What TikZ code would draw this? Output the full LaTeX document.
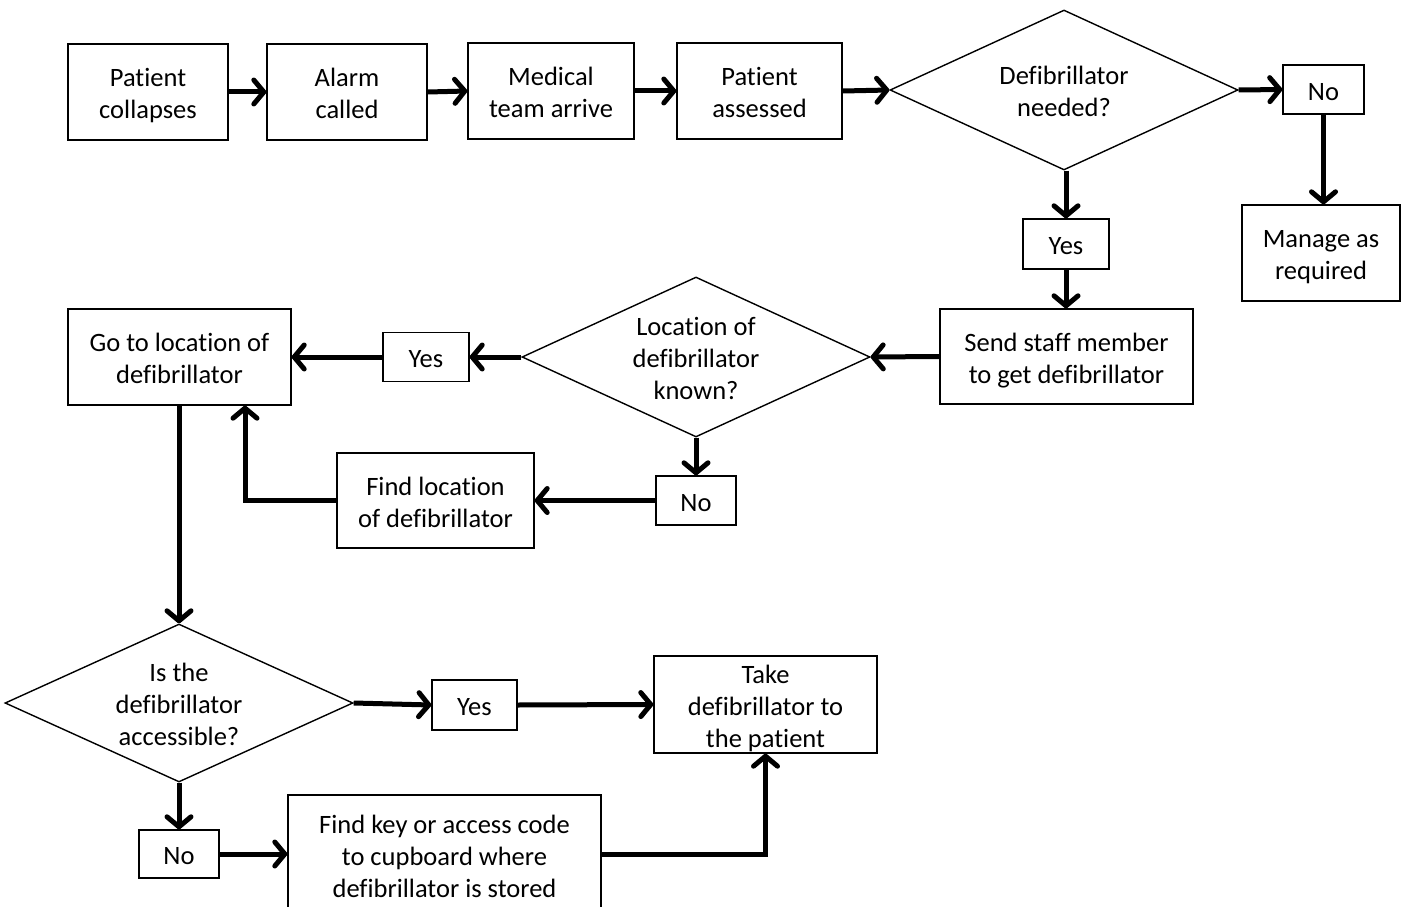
\documentclass[tikz,border=0pt]{standalone}
\usepackage{fontspec}
\setmainfont{Carlito}[Ligatures={NoCommon}]
\usetikzlibrary{arrows.meta,shapes.geometric,calc}
\newcommand\tp{\rule{0pt}{27pt}}
\newcommand\bt{\rule[-6pt]{0pt}{6pt}}
\begin{document}
\begin{tikzpicture}[x=1pt,y=-1pt,
  txt/.style={align=center,inner sep=0pt,font=\fontsize{26.5}{32}\selectfont},
  box/.style={draw,line width=1.4pt,txt},
  dia/.style={diamond,draw,line width=1.4pt,txt,shape aspect=2.175},
  conn/.style={line width=5pt,-{Straight Barb[length=10pt,width=24pt,round]}}]
\useasboundingbox (0,0) rectangle (1401,907);
% row 1
\node[box,minimum width=160pt,minimum height=96pt] (pc) at (148,92) {\tp Patient\\collapses\bt};
\node[box,minimum width=160pt,minimum height=96pt] (ac) at (347,92) {\tp Alarm\\called\bt};
\node[box,minimum width=166pt,minimum height=96pt] (mta) at (551,91) {\tp Medical\\team arrive\bt};
\node[box,minimum width=165pt,minimum height=96pt] (pa) at (759.5,91) {\tp Patient\\assessed\bt};
\node[dia,minimum width=348pt,minimum height=160pt] (d1) at (1064,90) {\tp Defibrillator\\needed?\bt};
\node[box,minimum width=81pt,minimum height=49pt] (no1) at (1323.5,89.5) {\tp No\bt};
\node[box,minimum width=158pt,minimum height=96pt] (mgr) at (1321,253) {\tp Manage as\\required\bt};
\node[box,minimum width=86pt,minimum height=50pt] (yes1) at (1066,244) {\tp Yes\bt};
% row 2
\node[box,minimum width=253pt,minimum height=95pt] (send) at (1066.5,356.5) {\tp Send staff member\\to get defibrillator\bt};
\node[dia,minimum width=348pt,minimum height=160pt] (d2) at (696,357) {\tp Location of\\defibrillator\\known?\bt};
\node[box,minimum width=86pt,minimum height=49pt] (yes2) at (426,357) {\tp Yes\bt};
\node[box,minimum width=223pt,minimum height=96pt] (go) at (179.5,357) {\tp Go to location of\\defibrillator\bt};
\node[box,minimum width=80pt,minimum height=49pt] (no2) at (696,500.5) {\tp No\bt};
\node[box,minimum width=197pt,minimum height=95pt] (findloc) at (435.5,500.5) {\tp Find location\\of defibrillator\bt};
% row 3
\node[dia,minimum width=348pt,minimum height=158pt] (d3) at (179,703) {\tp Is the\\defibrillator\\accessible?\bt};
\node[box,minimum width=85pt,minimum height=50pt] (yes3) at (474.5,705) {\tp Yes\bt};
\node[box,minimum width=223pt,minimum height=95pt] (take) at (765.5,704.5) {\tp Take\\defibrillator to\\the patient\bt};
\node[box,minimum width=80pt,minimum height=48pt] (no3) at (179,854) {\tp No\bt};
\node[box,minimum width=313pt,minimum height=120pt] (findkey) at (444.5,855) {\tp Find key or access code\\to cupboard where\\defibrillator is stored\bt};
% connectors
\draw[conn] (pc.east) -- (ac.west);
\draw[conn] (ac.east) -- (mta.west);
\draw[conn] (mta.east) -- (pa.west);
\draw[conn] (pa.east) -- (d1.west);
\draw[conn] (d1.east) -- (no1.west);
\draw[conn] (no1.south) -- (no1.south |- mgr.north);
\draw[conn] (d1.south -| yes1.north) -- (yes1.north);
\draw[conn] (yes1.south) -- (yes1.south |- send.north);
\draw[conn] (send.west) -- (d2.east);
\draw[conn] (d2.west) -- (yes2.east);
\draw[conn] (yes2.west) -- (go.east);
\draw[conn] (d2.south) -- (d2.south |- no2.north);
\draw[conn] (no2.west) -- (findloc.east);
\draw[conn] (findloc.west) -| ([xshift=65.5pt]go.south);
\draw[conn] (go.south -| d3.north) -- (d3.north);
\draw[conn] (d3.east) -- (yes3.west);
\draw[conn] (yes3.east) -- (take.west);
\draw[conn] (d3.south) -- (no3.north);
\draw[conn] (no3.east) -- (no3.east -| findkey.west);
\draw[conn] (findkey.east |- no3.east) -| (take.south);
\end{tikzpicture}
\end{document}
